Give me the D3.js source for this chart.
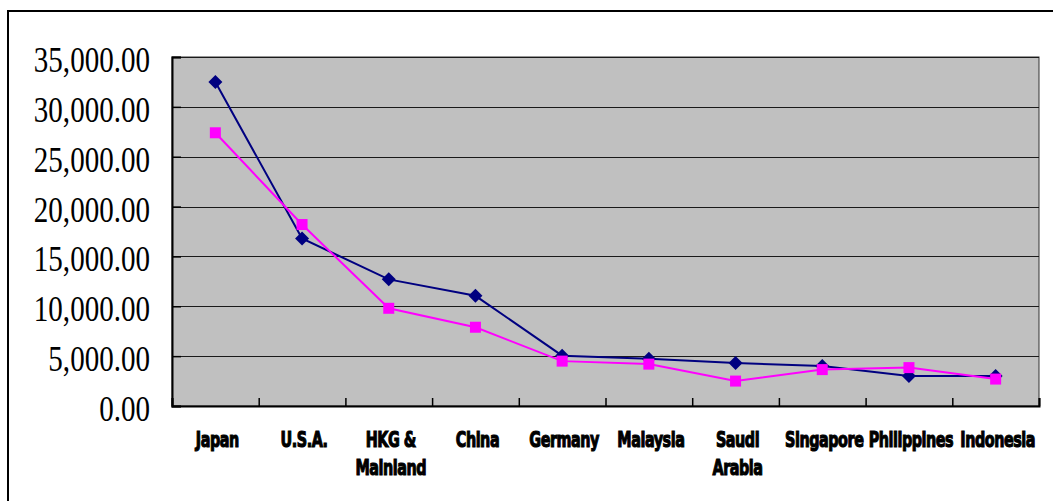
<!DOCTYPE html>
<html>
<head>
<meta charset="utf-8">
<script src="https://cdn.jsdelivr.net/npm/d3@7"></script>
<style>
  html, body { margin: 0; padding: 0; background: #fff; }
</style>
</head>
<body>
<div id="chart"></div>
<script>
const categories = ["Japan", "U.S.A.", "HKG &|Mainland", "China", "Germany", "Malaysia", "Saudi|Arabia", "Singapore", "Philippines", "Indonesia"];
const seriesA = [32500, 16800, 12700, 11050, 5050, 4750, 4300, 4000, 3000, 3000];
const seriesB = [27400, 18200, 9800, 7900, 4500, 4200, 2500, 3650, 3850, 2700];
const yTicks = [0, 5000, 10000, 15000, 20000, 25000, 30000, 35000];

const width = 1053;
const height = 501;

const svg = d3.select("#chart")
    .append("svg")
    .attr("width", width)
    .attr("height", height);

// outer chart frame (runs off the right/bottom edges)
svg.append("rect")
    .attr("x", 8)
    .attr("y", 11)
    .attr("width", 1060)
    .attr("height", 520)
    .attr("fill", "#fff")
    .attr("stroke", "#000")
    .attr("stroke-width", 2);

const plot = { left: 172, right: 1039, top: 57, bottom: 406 };

const x = d3.scaleBand()
    .domain(categories)
    .range([plot.left, plot.right]);

const y = d3.scaleLinear()
    .domain([0, 35000])
    .range([plot.bottom, plot.top]);

// plot background
svg.append("rect")
    .attr("x", plot.left)
    .attr("y", plot.top)
    .attr("width", plot.right - plot.left)
    .attr("height", plot.bottom - plot.top)
    .attr("fill", "#c0c0c0")
    .attr("stroke", "#333")
    .attr("stroke-width", 1);

// gridlines
svg.append("g")
    .selectAll("line")
    .data(yTicks)
    .enter().append("line")
    .attr("x1", plot.left)
    .attr("x2", plot.right)
    .attr("y1", d => Math.round(y(d)) + 0.5)
    .attr("y2", d => Math.round(y(d)) + 0.5)
    .attr("stroke", "#1a1a1a")
    .attr("stroke-width", 1);

// y axis (ticks point inward)
const yAxis = svg.append("g")
    .attr("transform", `translate(${plot.left},0)`)
    .call(d3.axisLeft(y).tickValues(yTicks).tickSize(-9).tickFormat(""));
yAxis.select(".domain").attr("stroke", "#000").attr("stroke-width", 2);
yAxis.selectAll(".tick line").attr("stroke", "#000").attr("stroke-width", 1.5);

// y labels, condensed serif
svg.append("g")
    .selectAll("g")
    .data(yTicks)
    .enter().append("g")
    .attr("transform", d => `translate(150,${y(d) + 15}) scale(0.83,1)`)
    .append("text")
    .attr("text-anchor", "end")
    .attr("font-family", "'Liberation Serif', 'Times New Roman', serif")
    .attr("font-size", 35)
    .attr("fill", "#000")
    .text(d3.format(",.2f"));

// x axis: ticks at category boundaries, pointing inward
const xBounds = d3.scaleLinear().domain([0, categories.length]).range([plot.left, plot.right]);
const xAxis = svg.append("g")
    .attr("transform", `translate(0,${plot.bottom})`)
    .call(d3.axisBottom(xBounds).ticks(categories.length).tickSize(-8).tickFormat(""));
xAxis.select(".domain").attr("stroke", "#000").attr("stroke-width", 2);
xAxis.selectAll(".tick line").attr("stroke", "#000").attr("stroke-width", 1.5);

// category labels (heavy condensed)
const catLabels = svg.append("g")
    .selectAll("g")
    .data(categories)
    .enter().append("g")
    .attr("transform", d => `translate(${x(d) + x.bandwidth() / 2 + 2},447) scale(0.8,1.15)`);
catLabels.each(function(d) {
    const lines = d.split("|");
    const t = d3.select(this).append("text")
        .attr("text-anchor", "middle")
        .attr("font-family", "'DejaVu Sans', sans-serif")
        .attr("font-weight", "bold")
        .attr("font-size", 18)
        .attr("letter-spacing", -0.6)
        .attr("fill", "#000")
        .attr("stroke", "#000")
        .attr("stroke-width", 1);
    lines.forEach((ln, i) => {
        t.append("tspan").attr("x", 0).attr("y", i * 24.5).text(ln);
    });
});

const cx = (d, i) => x(categories[i]) + x.bandwidth() / 2;

const line = d3.line()
    .x((d, i) => cx(d, i))
    .y(d => y(d));

// series A: navy diamonds
svg.append("path")
    .datum(seriesA)
    .attr("d", line)
    .attr("fill", "none")
    .attr("stroke", "#000080")
    .attr("stroke-width", 2);

// series B: magenta squares
svg.append("path")
    .datum(seriesB)
    .attr("d", line)
    .attr("fill", "none")
    .attr("stroke", "#ff00ff")
    .attr("stroke-width", 2);

svg.append("g")
    .selectAll("path")
    .data(seriesA)
    .enter().append("path")
    .attr("d", "M0,-7L7,0L0,7L-7,0Z")
    .attr("transform", (d, i) => `translate(${cx(d, i)},${y(d)})`)
    .attr("fill", "#000080");

svg.append("g")
    .selectAll("rect")
    .data(seriesB)
    .enter().append("rect")
    .attr("x", (d, i) => cx(d, i) - 5.5)
    .attr("y", d => y(d) - 5.5)
    .attr("width", 11)
    .attr("height", 11)
    .attr("fill", "#ff00ff");
</script>
</body>
</html>
